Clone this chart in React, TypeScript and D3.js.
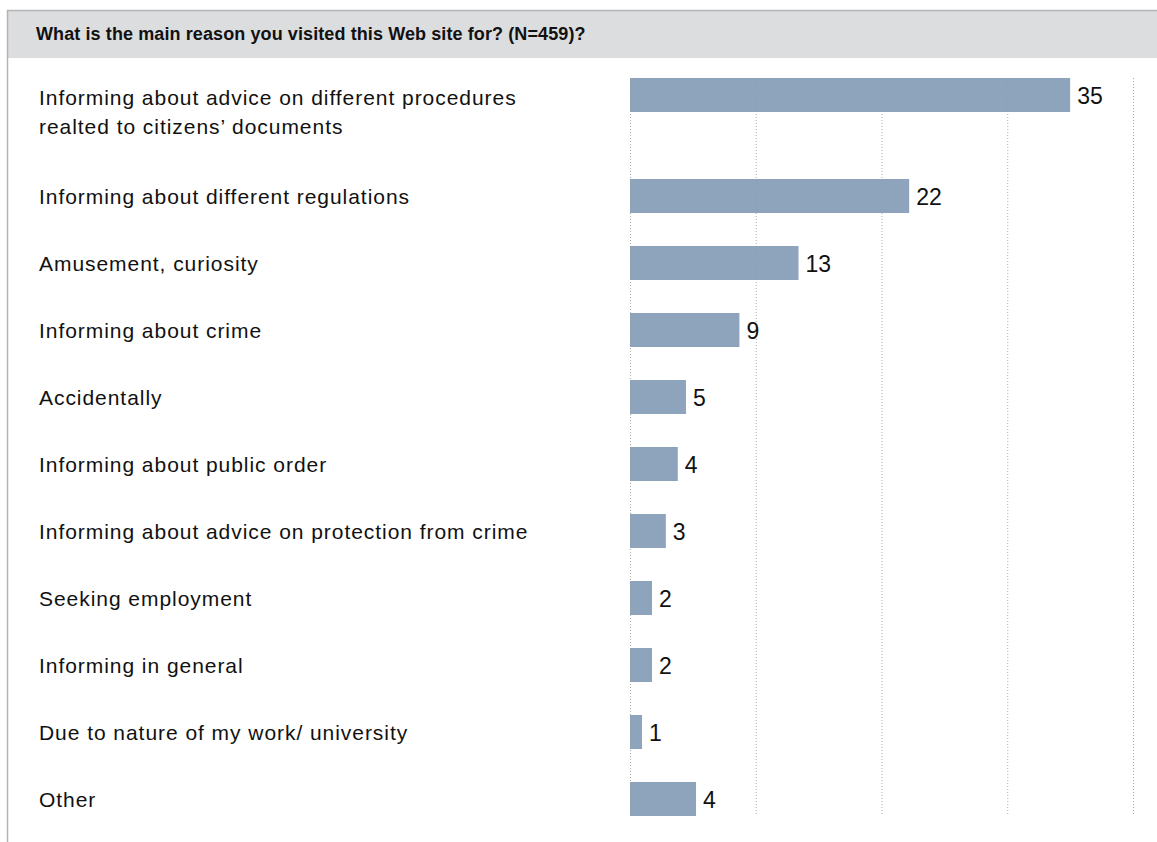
import React from "react";
import * as d3 from "d3";

const title = "What is the main reason you visited this Web site for? (N=459)?";
const categories: string[][] = [
  ["Informing about advice on different procedures", "realted to citizens’ documents"],
  ["Informing about different regulations"],
  ["Amusement, curiosity"],
  ["Informing about crime"],
  ["Accidentally"],
  ["Informing about public order"],
  ["Informing about advice on protection from crime"],
  ["Seeking employment"],
  ["Informing in general"],
  ["Due to nature of my work/ university"],
  ["Other"],
];
const barValues = [35, 22.2, 13.4, 8.7, 4.45, 3.8, 2.85, 1.75, 1.75, 0.95, 5.25];
const valueLabels = ["35", "22", "13", "9", "5", "4", "3", "2", "2", "1", "4"];
const gridTicks = [0, 10, 20, 30, 40];

const W = 1157;
const H = 842;

export default function App() {
  const x = d3.scaleLinear().domain([0, 40]).range([630, 1133]);
  const extra = (i: number) => (i >= 1 ? 34 : 0);
  const barH = 34;
  const barTop = (i: number) => 78 + i * 67 + extra(i);
  const font = "'Liberation Sans', Arial, sans-serif";
  const gridTop = barTop(0);
  const gridBottom = barTop(categories.length - 1) + barH;

  return (
    <svg
      width={W}
      height={H}
      style={{ position: "absolute", left: 0, top: 0, background: "#fff" }}
      fontFamily={font}
    >
      <rect x={7} y={10} width={W - 7} height={48} fill="#dcdddf" />
      <line x1={7} x2={W} y1={10.5} y2={10.5} stroke="#b4b4b4" strokeWidth={1.5} />
      <line x1={7.5} x2={7.5} y1={10} y2={H} stroke="#b4b4b4" strokeWidth={1.5} />
      <text x={36} y={40} fontSize={18} fontWeight="bold" letterSpacing={0.1} fill="#111">
        {title}
      </text>

      {barValues.map((v, i) => (
        <rect
          key={"b" + i}
          x={x(0)}
          y={barTop(i)}
          width={x(v) - x(0)}
          height={barH}
          fill="#8da4bc"
        />
      ))}

      {gridTicks.map((t) => (
        <line
          key={"g" + t}
          x1={x(t) + 0.5}
          x2={x(t) + 0.5}
          y1={gridTop}
          y2={gridBottom}
          stroke="#9a9a9a"
          strokeWidth={1}
          strokeDasharray="1,2"
          opacity={0.8}
        />
      ))}

      {categories.map((lines, i) => {
        const c = barTop(i) + barH / 2;
        if (lines.length > 1) {
          return (
            <text key={"l" + i} x={39} y={c + 10} fontSize={21} letterSpacing={0.95} fill="#111">
              {lines.map((ln, j) => (
                <tspan key={j} x={39} y={c + 10 + j * 29}>
                  {ln}
                </tspan>
              ))}
            </text>
          );
        }
        return (
          <text key={"l" + i} x={39} y={c + 8} fontSize={21} letterSpacing={0.95} fill="#111">
            {lines[0]}
          </text>
        );
      })}

      {barValues.map((v, i) => (
        <text
          key={"v" + i}
          x={x(v) + 7}
          y={barTop(i) + barH / 2 + 9}
          fontSize={23}
          fill="#111"
        >
          {valueLabels[i]}
        </text>
      ))}
    </svg>
  );
}
